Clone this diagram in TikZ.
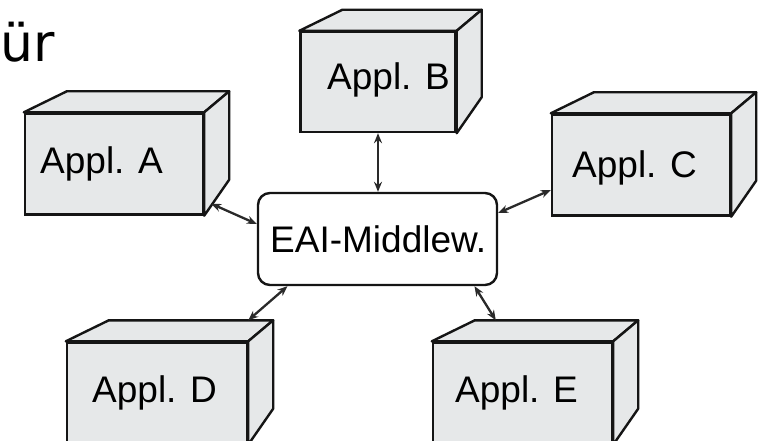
\documentclass[tikz,border=0pt]{standalone}
\usepackage{fontspec}
\setmainfont{Liberation Sans}
\newfontfamily\headfont{DejaVu Sans}
\usetikzlibrary{arrows.meta,calc}

\definecolor{boxgray}{HTML}{E6E8E9}
\definecolor{edgeblack}{HTML}{151515}
\definecolor{linkgray}{HTML}{2A2A2A}

\tikzset{
  front/.style={draw=edgeblack, fill=boxgray, line width=2.4pt,
    minimum width=178pt, minimum height=101pt, inner sep=0pt},
  face/.style={draw=edgeblack, fill=boxgray, line width=2.4pt, line join=round},
  middle/.style={draw=edgeblack, fill=white, line width=2.4pt,
    rounded corners=12pt, minimum width=239pt, minimum height=92pt, inner sep=0pt},
  lbl/.style={font=\fontsize{37}{40}\selectfont, anchor=base west, inner sep=0pt},
  conn/.style={draw=linkgray, line width=2.3pt,
    {Stealth[length=10pt,width=8pt]}-{Stealth[length=10pt,width=8pt]}},
}

% top and right faces of a box whose front face is node #1
\newcommand\cubefaces[1]{%
  \draw[face] (#1.north west) -- ++(43,-21) -- ($(#1.north east)+(25,-21)$)
    -- (#1.north east) -- cycle;
  \draw[face] (#1.north east) -- ++(25,-21) -- ($(#1.south east)+(25,-36)$)
    -- (#1.south east) -- cycle;
}

\begin{document}
\begin{tikzpicture}[x=1pt,y=-1pt]
\clip (0,0) rectangle (763,441);
\useasboundingbox (0,0) rectangle (763,441);

% heading fragment
\node[anchor=base west, inner sep=0pt, font=\headfont\fontsize{52}{60}\selectfont]
  (head) at (0,62) {ür};

% application boxes (front faces)
\node[front] (A) at (114,164) {};
\node[front, minimum width=155pt, minimum height=100pt] (B) at (378,82) {};
\node[front] (C) at (641,165) {};
\node[front, minimum width=180pt] (D) at (157,393) {};
\node[front, minimum width=179pt] (E) at (522.5,393) {};
\cubefaces{A}
\cubefaces{B}
\cubefaces{C}
\cubefaces{D}
\cubefaces{E}

\node[lbl] (tA) at (40,173) {Appl. A};
\node[lbl] (tB) at (327,90) {Appl. B};
\node[lbl] (tC) at (572,177) {Appl. C};
\node[lbl] (tD) at (92,402) {Appl. D};
\node[lbl] (tE) at (455,402) {Appl. E};

% middleware
\node[middle] (M) at (377.5,239) {};
\node[lbl] (tM) at (270,252) {EAI-Middlew.};

% connectors
\draw[conn] ([xshift=7pt,yshift=12pt]A.south east) -- ([yshift=15pt]M.west);
\draw[conn] (B.south) -- (B.south |- M.north);
\draw[conn] ([yshift=-25pt]C.west) -- ([yshift=26pt]M.east);
\draw[conn] ([xshift=-90pt]M.south) -- ([yshift=21pt]D.north east);
\draw[conn] ([xshift=97pt]M.south) -- ([xshift=64pt,yshift=21pt]E.north west);
\end{tikzpicture}
\end{document}
